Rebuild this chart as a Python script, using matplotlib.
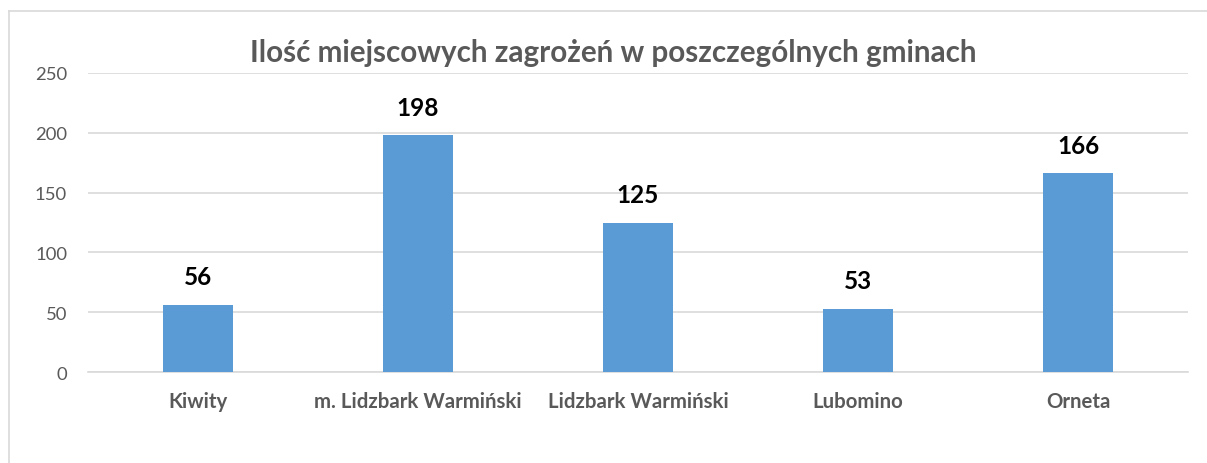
import matplotlib
matplotlib.use("Agg")
import matplotlib.pyplot as plt
from matplotlib.lines import Line2D

categories = ["Kiwity", "m. Lidzbark Warmiński", "Lidzbark Warmiński", "Lubomino", "Orneta"]
values = [56, 198, 125, 53, 166]
yticks = [0, 50, 100, 150, 200, 250]
title = "Ilość miejscowych zagrożeń w poszczególnych gminach"

plt.rcParams['font.family'] = ['Lato', 'DejaVu Sans']

W, H = 1207, 464
fig = plt.figure(figsize=(W / 100, H / 100), dpi=100)
ax = fig.add_axes([88 / W, 1 - 373 / H, 1100 / W, 299 / H])

x = list(range(len(categories)))
bars = ax.bar(x, values, width=0.314, color="#5B9BD5", zorder=3)
ax.set_xlim(-0.5, len(categories) - 0.5)
ax.set_ylim(0, 250)
ax.set_yticks(yticks)
ax.set_xticks(x)
ax.set_xticklabels(categories, fontsize=14.7, fontweight="bold", color="#595959")
ax.tick_params(axis="x", length=0, pad=14)
ax.tick_params(axis="y", length=0, pad=15, labelsize=13.3, labelcolor="#595959")
ax.grid(axis="y", color="#D9D9D9", linewidth=1.2, zorder=0)
for s in ["top", "right", "left"]:
    ax.spines[s].set_visible(False)
ax.spines["bottom"].set_color("#D9D9D9")
ax.spines["bottom"].set_linewidth(1.2)

for xi, v in zip(x, values):
    ax.annotate(str(v), (xi, v), xytext=(0, 12), textcoords="offset points",
                ha="center", va="bottom", fontsize=17.5, fontweight="bold", color="black")

fig.text(613 / W, 1 - 53 / H, title, ha="center", va="center",
         fontsize=21.3, fontweight="bold", color="#595959")

# chart frame (left and top edges visible)
fig.add_artist(Line2D([9 / W, 9 / W], [0, 1 - 12 / H], transform=fig.transFigure, color="#D9D9D9", lw=1.2))
fig.add_artist(Line2D([9 / W, 1], [1 - 12 / H, 1 - 12 / H], transform=fig.transFigure, color="#D9D9D9", lw=1.2))

fig.savefig("out.png", dpi=100)
